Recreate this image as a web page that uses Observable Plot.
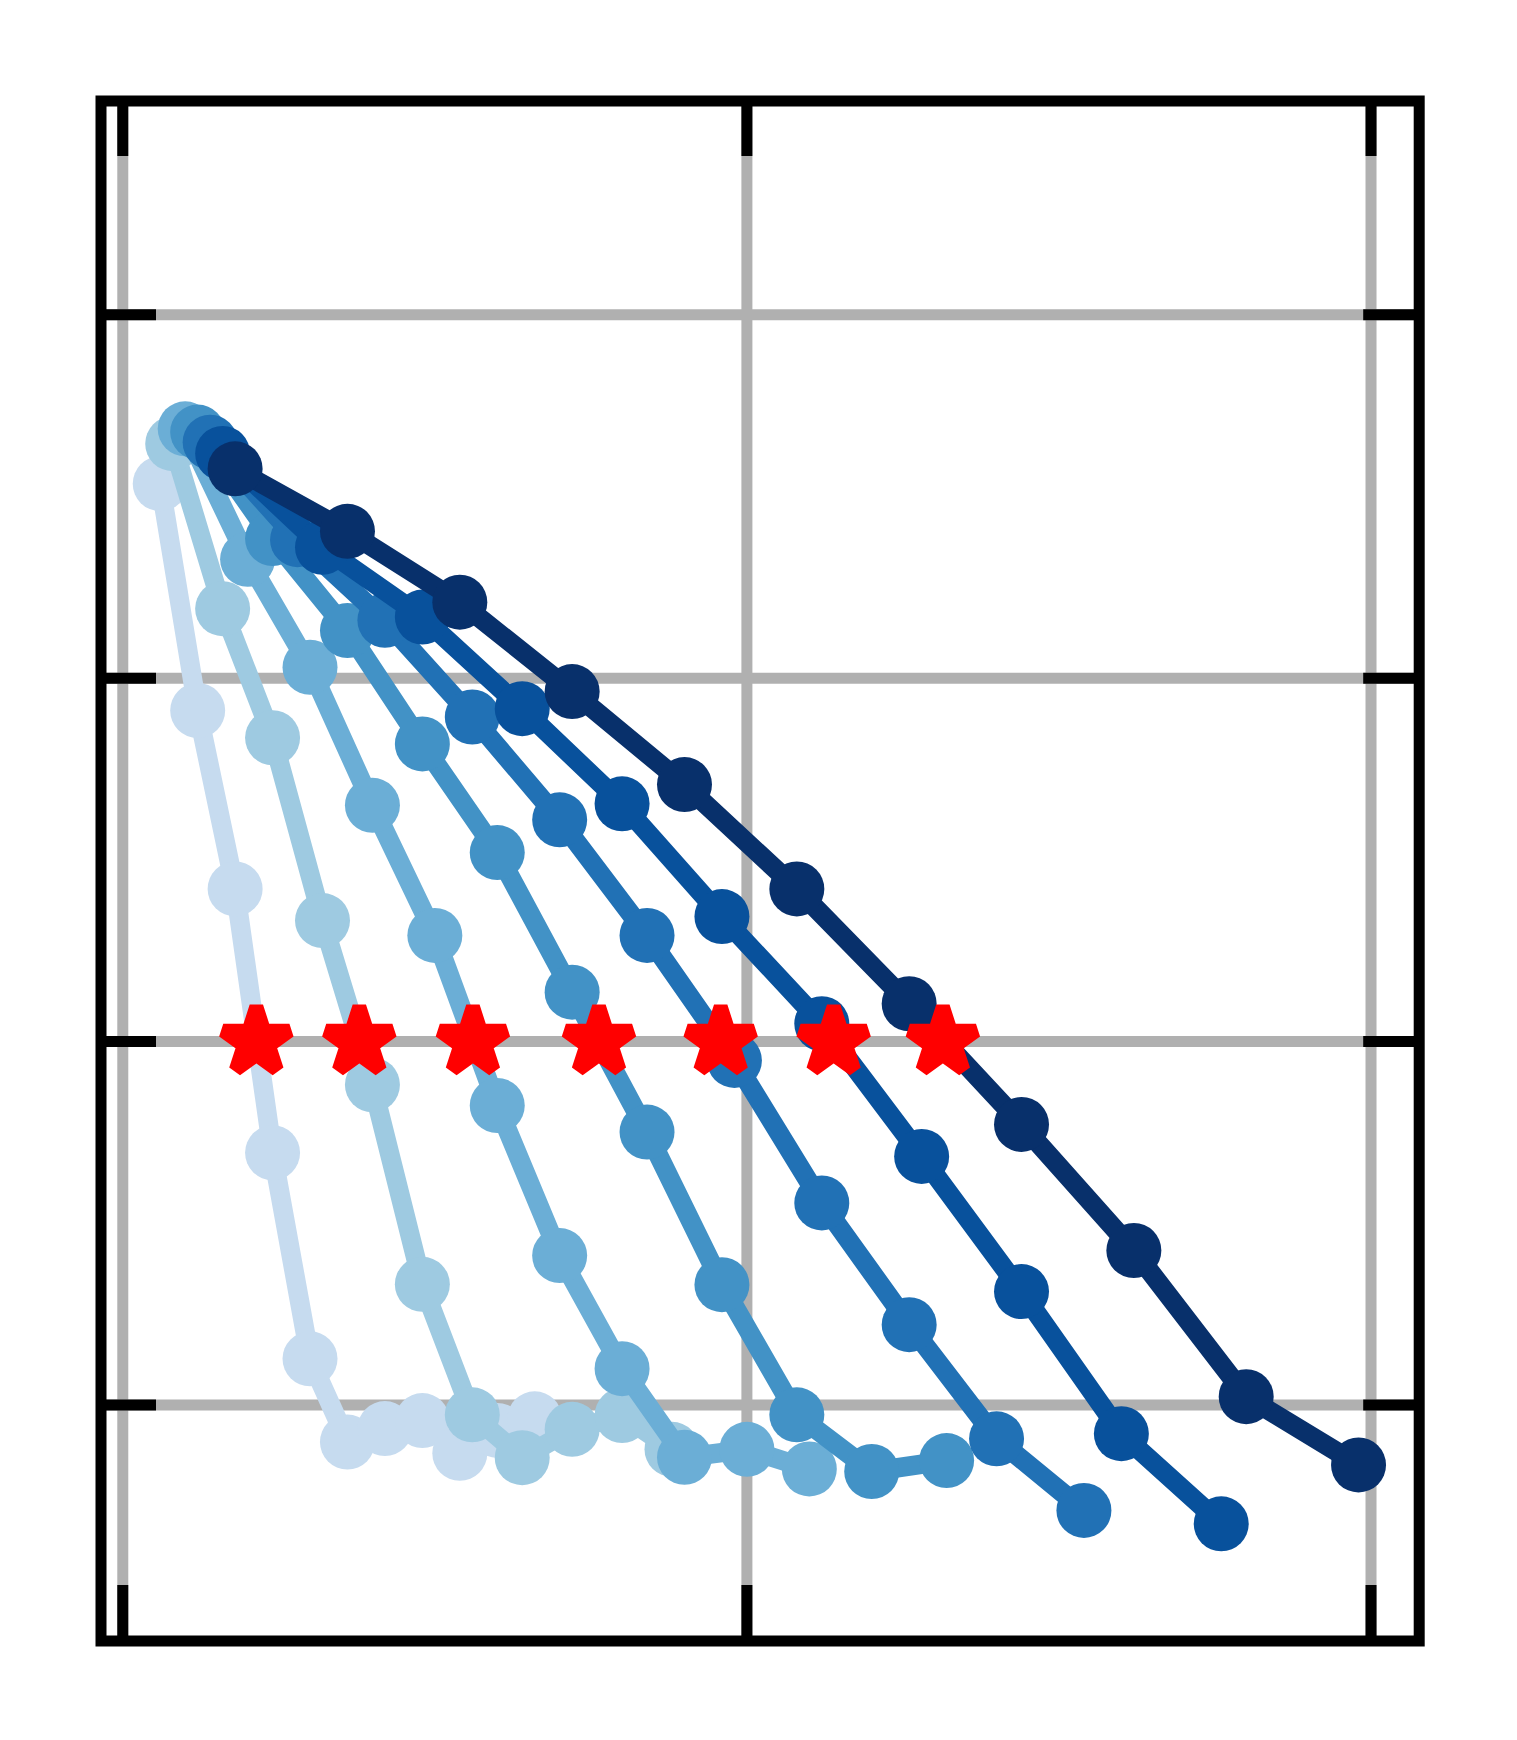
<!DOCTYPE html>
<html>
<head>
<meta charset="utf-8">
<script src="https://cdn.jsdelivr.net/npm/d3@7"></script>
<script src="https://cdn.jsdelivr.net/npm/@observablehq/plot@0.6"></script>
<style>
  html, body { margin: 0; padding: 0; background: #ffffff; }
  #chart svg { display: block; }
</style>
</head>
<body>
<div id="chart"></div>
<script>
// Tick positions (no labels are shown in the reference)
const xTicks = [0, 1, 2];
const yTicks = [0, 1, 2, 3];

// Series colours (light to dark)
const seriesColors = ["#c6dbef", "#9ecae1", "#6baed6", "#4292c6", "#2171b5", "#08519c", "#08306b"];

// Series values
const x1 = [0.06, 0.12, 0.18, 0.24, 0.30, 0.36, 0.42, 0.48, 0.54, 0.60, 0.66];
const y1 = [2.535, 1.911, 1.420, 0.694, 0.127, -0.102, -0.065, -0.043, -0.133, -0.070, -0.038];

const x2 = [0.08, 0.16, 0.24, 0.32, 0.40, 0.48, 0.56, 0.64, 0.72, 0.80, 0.88];
const y2 = [2.645, 2.191, 1.836, 1.333, 0.881, 0.332, -0.027, -0.145, -0.067, -0.029, -0.122];

const x3 = [0.10, 0.20, 0.30, 0.40, 0.50, 0.60, 0.70, 0.80, 0.90, 1.00, 1.10];
const y3 = [2.686, 2.327, 2.030, 1.650, 1.292, 0.824, 0.411, 0.100, -0.144, -0.122, -0.176];

const x4 = [0.12, 0.24, 0.36, 0.48, 0.60, 0.72, 0.84, 0.96, 1.08, 1.20, 1.32];
const y4 = [2.677, 2.384, 2.131, 1.819, 1.520, 1.136, 0.751, 0.331, -0.027, -0.183, -0.153];

const x5 = [0.14, 0.28, 0.42, 0.56, 0.70, 0.84, 0.98, 1.12, 1.26, 1.40, 1.54];
const y5 = [2.649, 2.381, 2.159, 1.893, 1.610, 1.292, 0.948, 0.556, 0.221, -0.093, -0.290];

const x6 = [0.16, 0.32, 0.48, 0.64, 0.80, 0.96, 1.12, 1.28, 1.44, 1.60, 1.76];
const y6 = [2.618, 2.360, 2.168, 1.916, 1.654, 1.344, 1.049, 0.684, 0.312, -0.079, -0.327];

const x7 = [0.18, 0.36, 0.54, 0.72, 0.90, 1.08, 1.26, 1.44, 1.62, 1.80, 1.98];
const y7 = [2.576, 2.404, 2.209, 1.963, 1.707, 1.420, 1.104, 0.772, 0.425, 0.023, -0.165];

// Red star markers
const starX = [0.214, 0.379, 0.561, 0.763, 0.958, 1.139, 1.314];
const starY = [1, 1, 1, 1, 1, 1, 1];

// ---- layout ----
const W = 1517, H = 1740;
const mL = 100.5, mR = 98.3, mT = 100.5, mB = 99.5;
const innerW = W - mL - mR, innerH = H - mT - mB;
const tickLen = 55.5;

const xs = [x1, x2, x3, x4, x5, x6, x7];
const ys = [y1, y2, y3, y4, y5, y6, y7];
const series = xs.map((xv, k) => xv.map((v, i) => ({x: v, y: ys[k][i]})));
const stars = starX.map((v, i) => ({x: v, y: starY[i]}));

const seriesMarks = [];
series.forEach((data, k) => {
  seriesMarks.push(Plot.line(data, {x: "x", y: "y", stroke: seriesColors[k], strokeWidth: 19.5, strokeLinejoin: "round"}));
  seriesMarks.push(Plot.dot(data, {x: "x", y: "y", r: 27.5, fill: seriesColors[k], stroke: "none"}));
});

const chart = Plot.plot({
  width: W,
  height: H,
  marginLeft: mL,
  marginRight: mR,
  marginTop: mT,
  marginBottom: mB,
  x: {domain: [-0.0349, 2.0772], axis: null},
  y: {domain: [-0.6494, 3.588], axis: null},
  marks: [
    // grid
    Plot.ruleX(xTicks, {x: d => d, stroke: "#b0b0b0", strokeWidth: 11}),
    Plot.ruleY(yTicks, {y: d => d, stroke: "#b0b0b0", strokeWidth: 11}),
    // inward ticks on all four sides
    Plot.ruleY(yTicks, {y: d => d, insetRight: innerW - tickLen, stroke: "black", strokeWidth: 11}),
    Plot.ruleY(yTicks, {y: d => d, insetLeft: innerW - tickLen, stroke: "black", strokeWidth: 11}),
    Plot.ruleX(xTicks, {x: d => d, insetBottom: innerH - tickLen, stroke: "black", strokeWidth: 11}),
    Plot.ruleX(xTicks, {x: d => d, insetTop: innerH - tickLen, stroke: "black", strokeWidth: 11}),
    Plot.frame({stroke: "black", strokeWidth: 11}),
    ...seriesMarks,
    Plot.dot(stars, {x: "x", y: "y", symbol: "star", r: 20.8, fill: "#ff0000", stroke: "#ff0000", strokeWidth: 14, strokeLinejoin: "bevel"})
  ]
});

document.getElementById("chart").appendChild(chart);
</script>
</body>
</html>
